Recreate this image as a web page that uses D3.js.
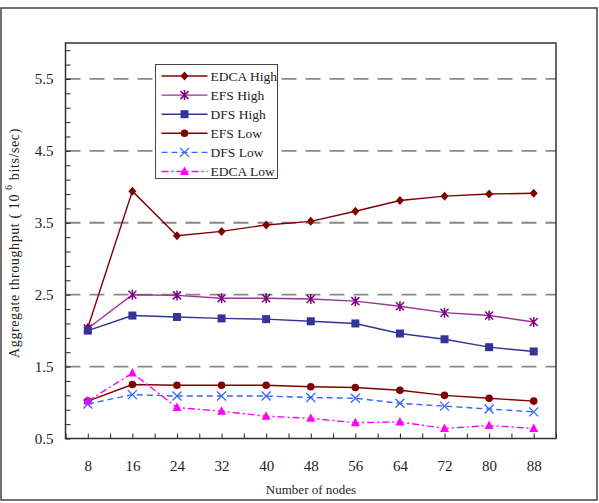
<!DOCTYPE html>
<html>
<head>
<meta charset="utf-8">
<script src="https://cdn.jsdelivr.net/npm/d3@7"></script>
<style>
  body { margin: 0; background: #fff; }
  text { font-family: "Liberation Serif", "DejaVu Serif", serif; fill: #222; }
</style>
</head>
<body>
<div id="chart"></div>
<script>
// data
var nodes = [8, 16, 24, 32, 40, 48, 56, 64, 72, 80, 88];
var edcaHigh = [2.04, 3.94, 3.32, 3.38, 3.47, 3.52, 3.66, 3.81, 3.87, 3.90, 3.91];
var efsHigh = [2.03, 2.50, 2.49, 2.45, 2.45, 2.44, 2.41, 2.34, 2.25, 2.21, 2.12];
var dfsHigh = [2.00, 2.21, 2.19, 2.17, 2.16, 2.13, 2.10, 1.96, 1.88, 1.77, 1.71];
var efsLow = [1.02, 1.25, 1.24, 1.24, 1.24, 1.22, 1.21, 1.17, 1.10, 1.06, 1.02];
var dfsLow = [0.98, 1.11, 1.09, 1.09, 1.09, 1.07, 1.06, 0.99, 0.95, 0.91, 0.87];
var edcaLow = [1.02, 1.41, 0.93, 0.88, 0.81, 0.78, 0.72, 0.73, 0.64, 0.68, 0.64];
var yTickLabels = [0.5, 1.5, 2.5, 3.5, 4.5, 5.5];

var series = [
  { name: "EDCA High", values: edcaHigh, color: "#800000", marker: "diamond", dash: null },
  { name: "EFS High", values: efsHigh, color: "#993399", marker: "star", dash: null },
  { name: "DFS High", values: dfsHigh, color: "#333399", marker: "square", dash: null },
  { name: "EFS Low", values: efsLow, color: "#800000", marker: "circle", dash: null },
  { name: "DFS Low", values: dfsLow, color: "#3366ff", marker: "cross", dash: "6,4" },
  { name: "EDCA Low", values: edcaLow, color: "#ff00ff", marker: "triangle", dash: "7,3,2,3" }
];

var svgWidth = 599;
var svgHeight = 503;

var margin = { top: 43, right: 43, bottom: 64.5, left: 65.5 };
var width = svgWidth - margin.left - margin.right;
var height = svgHeight - margin.top - margin.bottom;

var svg = d3.select("#chart")
  .append("svg")
  .attr("width", svgWidth)
  .attr("height", svgHeight);

// outer frame
svg.append("rect")
  .attr("x", 1).attr("y", 8)
  .attr("width", 596).attr("height", 492)
  .attr("fill", "none")
  .attr("stroke", "#444")
  .attr("stroke-width", 1.5);

var chartGroup = svg.append("g")
  .attr("transform", `translate(${margin.left}, ${margin.top})`);

var xScale = d3.scaleLinear().domain([4, 92]).range([0, width]);
var yScale = d3.scaleLinear().domain([0.5, 6.0]).range([height, 0]);

// dashed gridlines
chartGroup.selectAll(".grid")
  .data(yTickLabels.slice(1))
  .enter()
  .append("line")
  .attr("x1", 0).attr("x2", width)
  .attr("y1", d => yScale(d)).attr("y2", d => yScale(d))
  .attr("stroke", "#888")
  .attr("stroke-width", 1.8)
  .attr("stroke-dasharray", "15,9");

// axes with inward ticks
var xTicks = d3.range(4, 93, 4);
var bottomAxis = d3.axisBottom(xScale)
  .tickValues(xTicks)
  .tickSize(-5)
  .tickFormat(d => nodes.indexOf(d) >= 0 ? d : "");
var xAxis = chartGroup.append("g")
  .attr("transform", `translate(0, ${height})`)
  .call(bottomAxis);
xAxis.select(".domain").remove();
xAxis.selectAll("line").attr("stroke", "#222");
xAxis.selectAll("text")
  .attr("y", 22)
  .style("font-size", "15px");

var yTicks = d3.range(0.5, 6.01, 0.2).map(d => +d.toFixed(1));
var leftAxis = d3.axisLeft(yScale)
  .tickValues(yTicks)
  .tickSize(-5)
  .tickFormat(d => yTickLabels.indexOf(d) >= 0 ? d3.format(".1f")(d) : "");
var yAxis = chartGroup.append("g").call(leftAxis);
yAxis.select(".domain").remove();
yAxis.selectAll("line").attr("stroke", "#222");
yAxis.selectAll("text")
  .attr("x", -12)
  .style("font-size", "15px");

// plot frame
chartGroup.append("rect")
  .attr("width", width).attr("height", height)
  .attr("fill", "none")
  .attr("stroke", "#333")
  .attr("stroke-width", 1.5);

// marker drawing
function drawMarker(g, type, color) {
  if (type === "diamond") {
    g.append("path").attr("d", "M0,-4.5L4,0L0,4.5L-4,0Z").attr("fill", color);
  } else if (type === "square") {
    g.append("rect").attr("x", -4).attr("y", -4).attr("width", 8).attr("height", 8).attr("fill", color);
  } else if (type === "circle") {
    g.append("circle").attr("r", 3.8).attr("fill", color);
  } else if (type === "triangle") {
    g.append("path").attr("d", "M0,-5L4.5,3.5L-4.5,3.5Z").attr("fill", color);
  } else if (type === "cross") {
    g.append("path").attr("d", "M-4.5,-4.5L4.5,4.5M-4.5,4.5L4.5,-4.5")
      .attr("stroke", color).attr("stroke-width", 1.3).attr("fill", "none");
  } else if (type === "star") {
    g.append("path").attr("d", "M-4,-4L4,4M-4,4L4,-4M0,-5L0,5")
      .attr("stroke", "#800080").attr("stroke-width", 1.5).attr("fill", "none");
  }
}

var line = d3.line()
  .x(d => xScale(d.x))
  .y(d => yScale(d.y));

series.forEach(function(s) {
  var pts = nodes.map((n, i) => ({ x: n, y: s.values[i] }));
  chartGroup.append("path")
    .datum(pts)
    .attr("d", line)
    .attr("fill", "none")
    .attr("stroke", s.color)
    .attr("stroke-width", 1.4)
    .attr("stroke-dasharray", s.dash);
  chartGroup.selectAll(null)
    .data(pts)
    .enter()
    .append("g")
    .attr("transform", d => `translate(${xScale(d.x)}, ${yScale(d.y)})`)
    .each(function() { drawMarker(d3.select(this), s.marker, s.color); });
});

// legend
var legend = svg.append("g").attr("transform", "translate(155.5, 64.5)");
legend.append("rect")
  .attr("width", 122).attr("height", 114)
  .attr("fill", "#fff")
  .attr("stroke", "#444")
  .attr("stroke-width", 1);

series.forEach(function(s, i) {
  var row = legend.append("g").attr("transform", `translate(0, ${11.5 + i * 19.1})`);
  row.append("line")
    .attr("x1", 6).attr("x2", 52)
    .attr("stroke", s.color)
    .attr("stroke-width", 1.4)
    .attr("stroke-dasharray", s.dash);
  drawMarker(row.append("g").attr("transform", "translate(29, 0)"), s.marker, s.color);
  row.append("text")
    .attr("x", 55).attr("y", 4.5)
    .style("font-size", "13.5px")
    .text(s.name);
});

// axis labels
svg.append("text")
  .attr("x", 311).attr("y", 494)
  .attr("text-anchor", "middle")
  .style("font-size", "13px")
  .text("Number of nodes");

var yLabel = svg.append("text")
  .attr("transform", "translate(19, 243) rotate(-90)")
  .attr("text-anchor", "middle")
  .style("font-size", "14px")
  .style("letter-spacing", "0.6px");
yLabel.append("tspan").text("Aggregate throughput ( 10 ");
yLabel.append("tspan").attr("dy", -7).style("font-size", "10px").text("6");
yLabel.append("tspan").attr("dy", 7).text(" bits/sec)");
</script>
</body>
</html>
